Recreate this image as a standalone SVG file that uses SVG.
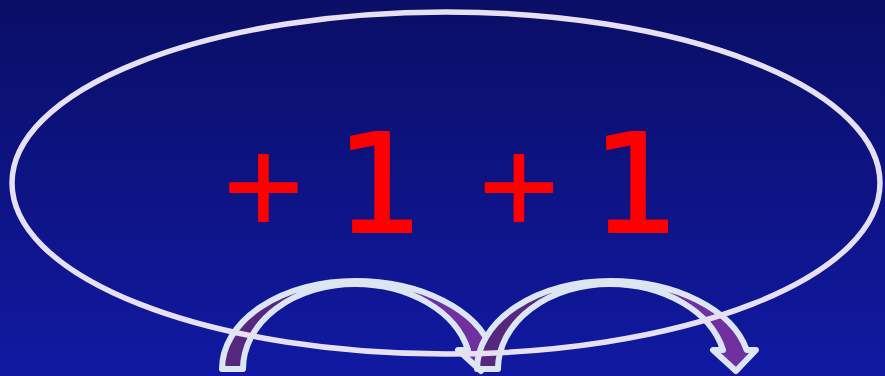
<svg xmlns="http://www.w3.org/2000/svg" width="885" height="376" viewBox="0 0 885 376">
<defs>
<linearGradient id="bg" x1="0" y1="0" x2="0" y2="1">
<stop offset="0" stop-color="#0a0e66"/>
<stop offset="1" stop-color="#1119a2"/>
</linearGradient>
<linearGradient id="arrowFill" x1="0" y1="0" x2="1" y2="0">
<stop offset="0.5" stop-color="#55287e"/>
<stop offset="0.5" stop-color="#7030a0"/>
</linearGradient>
<style>
.arrow{fill:url(#arrowFill);stroke:#dce6f2;stroke-width:6;stroke-linejoin:round}
.ring{fill:none;stroke:#e6e0f0;stroke-width:5.5}
.num{font-family:"DejaVu Sans",sans-serif;fill:#ff0000;stroke:#ff0000;stroke-linejoin:round;text-anchor:middle}
</style>
<path id="curvedArrow" d="M477,369 A133,88 0 0 1 610,281 A140,88 0 0 1 746.7,350 L756,350 L736,371 L713,350 L723,350 A116,85 0 0 0 610,284 A112,85 0 0 0 498,369 Z"/>
</defs>
<rect width="885" height="376" fill="url(#bg)"/>
<g id="arrows">
<use id="arrow1" class="arrow" href="#curvedArrow" transform="translate(-255,0)"/>
<use id="arrow2" class="arrow" href="#curvedArrow"/>
</g>
<g id="loop">
<ellipse class="ring" cx="446" cy="183" rx="434" ry="171"/>
</g>
<g id="label">
<text class="num" font-size="106" stroke-width="2" x="263.5" y="221">+</text>
<text class="num" font-size="138" stroke-width="2" x="380" y="232">1</text>
<text class="num" font-size="106" stroke-width="2" x="519" y="221">+</text>
<text class="num" font-size="138" stroke-width="2" x="636" y="232">1</text>
</g>
</svg>
